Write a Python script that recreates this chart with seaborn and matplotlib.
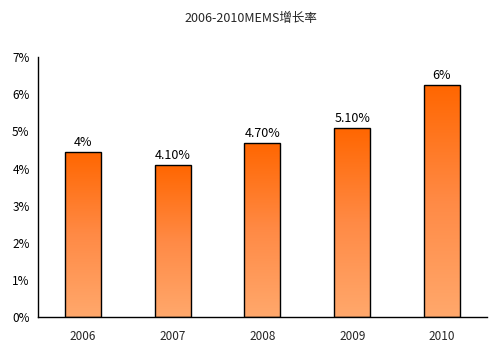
import numpy as np
import pandas as pd
import matplotlib.pyplot as plt
import seaborn as sns
from matplotlib.colors import LinearSegmentedColormap
from matplotlib.ticker import FuncFormatter, FixedLocator

# Daten
years = ['2006', '2007', '2008', '2009', '2010']
growth = [4.45, 4.1, 4.7, 5.1, 6.25]
labels = ['4%', '4.10%', '4.70%', '5.10%', '6%']
title = '2006-2010MEMS增长率'

df = pd.DataFrame({'year': years, 'growth': growth})

sns.set_style('white')
plt.rcParams['font.family'] = ['Noto Sans CJK SC', 'DejaVu Sans']

fig = plt.figure(figsize=(5.01, 3.57), dpi=100)
ax = fig.add_axes([0.0758, 0.112, 0.896, 0.728])

sns.barplot(data=df, x='year', y='growth', width=0.4, color='#ff6600',
            edgecolor='black', linewidth=1.0, ax=ax)

# Farbverlauf in den Balken
cmap = LinearSegmentedColormap.from_list('orange', ['#ffa86c', '#ff8a45', '#ff6600'])
grad = np.linspace(0, 1, 256).reshape(-1, 1)
for patch in ax.patches:
    x0, y0 = patch.get_x(), patch.get_y()
    w, h = patch.get_width(), patch.get_height()
    im = ax.imshow(grad, cmap=cmap, aspect='auto', origin='lower',
                   extent=[x0, x0 + w, y0, y0 + h], zorder=patch.get_zorder() - 0.1)
    im.set_clip_path(patch)
    patch.set_facecolor('none')
ax.set_xlim(-0.5, len(years) - 0.5)
ax.set_ylim(0, 7)

for i, (v, lab) in enumerate(zip(growth, labels)):
    ax.text(i, v + 0.08, lab, ha='center', va='bottom', fontsize=9, color='black')

ax.yaxis.set_major_formatter(FuncFormatter(lambda v, p: f'{int(v)}%'))
ax.set_yticks(range(0, 8))
ax.tick_params(axis='y', direction='out', length=4, width=1, labelsize=8.5, colors='black', pad=2)
ax.tick_params(axis='x', which='major', length=0, labelsize=8.5, pad=9)
ax.xaxis.set_minor_locator(FixedLocator(np.arange(0.5, len(years) + 0.4, 1.0)))
ax.tick_params(axis='x', which='minor', direction='in', length=5, width=1, colors='black')

for s in ['top', 'right']:
    ax.spines[s].set_visible(False)
for s in ['left', 'bottom']:
    ax.spines[s].set_color('black')
    ax.spines[s].set_linewidth(1)

ax.set_xlabel('')
ax.set_ylabel('')
fig.text(0.5, 0.947, title, ha='center', va='center', fontsize=9)

fig.savefig('out.png', dpi=100, facecolor='white')
